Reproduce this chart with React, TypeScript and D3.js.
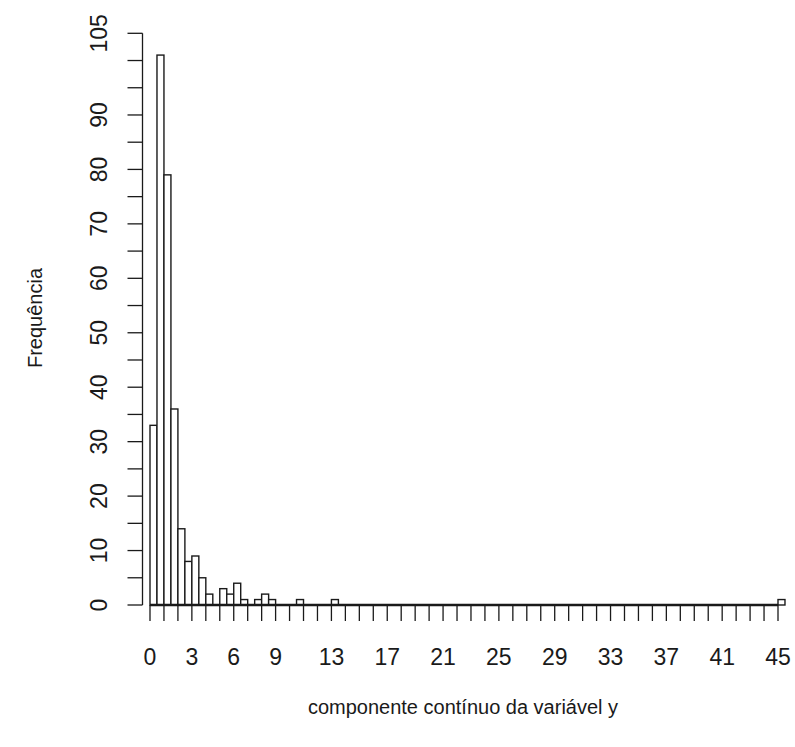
import React from "react";
import * as d3 from "d3";

// Histogram of the continuous component, bins of width 0.5 starting at 0
const binWidth = 0.5;
const counts: number[] = [
  33, 101, 79, 36, 14, 8, 9, 5, 2, 0, // 0 – 5
  3, 2, 4, 1, 0, 1, 2, 1, 0, 0,       // 5 – 10
  0, 1, 0, 0, 0, 0, 1, 0, 0, 0,       // 10 – 15
  0, 0, 0, 0, 0, 0, 0, 0, 0, 0,       // 15 – 20
  0, 0, 0, 0, 0, 0, 0, 0, 0, 0,       // 20 – 25
  0, 0, 0, 0, 0, 0, 0, 0, 0, 0,       // 25 – 30
  0, 0, 0, 0, 0, 0, 0, 0, 0, 0,       // 30 – 35
  0, 0, 0, 0, 0, 0, 0, 0, 0, 0,       // 35 – 40
  0, 0, 0, 0, 0, 0, 0, 0, 0, 0,       // 40 – 45
  1,                                  // 45 – 45.5
];

const xTickValues: number[] = d3.range(0, 46, 1);
const xTickLabels: number[] = [0, 3, 6, 9, 13, 17, 21, 25, 29, 33, 37, 41, 45];
const yTickValues: number[] = d3.range(0, 106, 5);
const yTickLabels: number[] = [0, 10, 20, 30, 40, 50, 60, 70, 80, 90, 105];

const xTitle = "componente contínuo da variável y";
const yTitle = "Frequência";

const W = 795;
const H = 747;
const FONT = "Liberation Sans, Arial, Helvetica, sans-serif";
const INK = "#1a1a1a";

export default function App() {
  const x = d3.scaleLinear().domain([0, 45]).range([150, 778]);
  const y = d3.scaleLinear().domain([0, 105]).range([605, 33.3]);
  const yAxisX = 142.5;
  const tickLen = 15;

  const bins = counts.map((c, i) => ({ x0: i * binWidth, x1: (i + 1) * binWidth, c }));

  return (
    <svg
      width={W}
      height={H}
      style={{ position: "absolute", left: 0, top: 0, background: "#fff" }}
      fontFamily={FONT}
    >
      <rect x={0} y={0} width={W} height={H} fill="#fff" />

      {/* bars */}
      <g fill="#fff" stroke={INK} strokeWidth={1.4}>
        {bins.map((b, i) => (
          <rect
            key={i}
            x={x(b.x0)}
            y={y(b.c)}
            width={x(b.x1) - x(b.x0)}
            height={y(0) - y(b.c)}
          />
        ))}
      </g>

      {/* x axis */}
      <g stroke={INK}>
        <line x1={x(0)} x2={x(45)} y1={y(0)} y2={y(0)} strokeWidth={2.4} />
        {xTickValues.map((v) => (
          <line key={v} x1={x(v)} x2={x(v)} y1={y(0)} y2={y(0) + tickLen + 1} strokeWidth={1.3} />
        ))}
      </g>
      <g fill={INK} fontSize={23} textAnchor="middle">
        {xTickLabels.map((v) => (
          <text key={v} x={x(v)} y={665}>
            {v}
          </text>
        ))}
      </g>

      {/* y axis */}
      <g stroke={INK} strokeWidth={1.3}>
        <line x1={yAxisX} x2={yAxisX} y1={y(105)} y2={y(0)} />
        {yTickValues.map((v) => (
          <line key={v} x1={yAxisX - tickLen} x2={yAxisX} y1={y(v)} y2={y(v)} />
        ))}
      </g>
      <g fill={INK} fontSize={23} textAnchor="middle">
        {yTickLabels.map((v) => (
          <text key={v} transform={`translate(107,${y(v)}) rotate(-90)`}>
            {v}
          </text>
        ))}
      </g>

      {/* axis titles */}
      <text x={463} y={714} fontSize={20} textAnchor="middle" fill={INK}>
        {xTitle}
      </text>
      <text
        transform={`translate(42,318) rotate(-90)`}
        fontSize={20}
        textAnchor="middle"
        fill={INK}
      >
        {yTitle}
      </text>
    </svg>
  );
}
